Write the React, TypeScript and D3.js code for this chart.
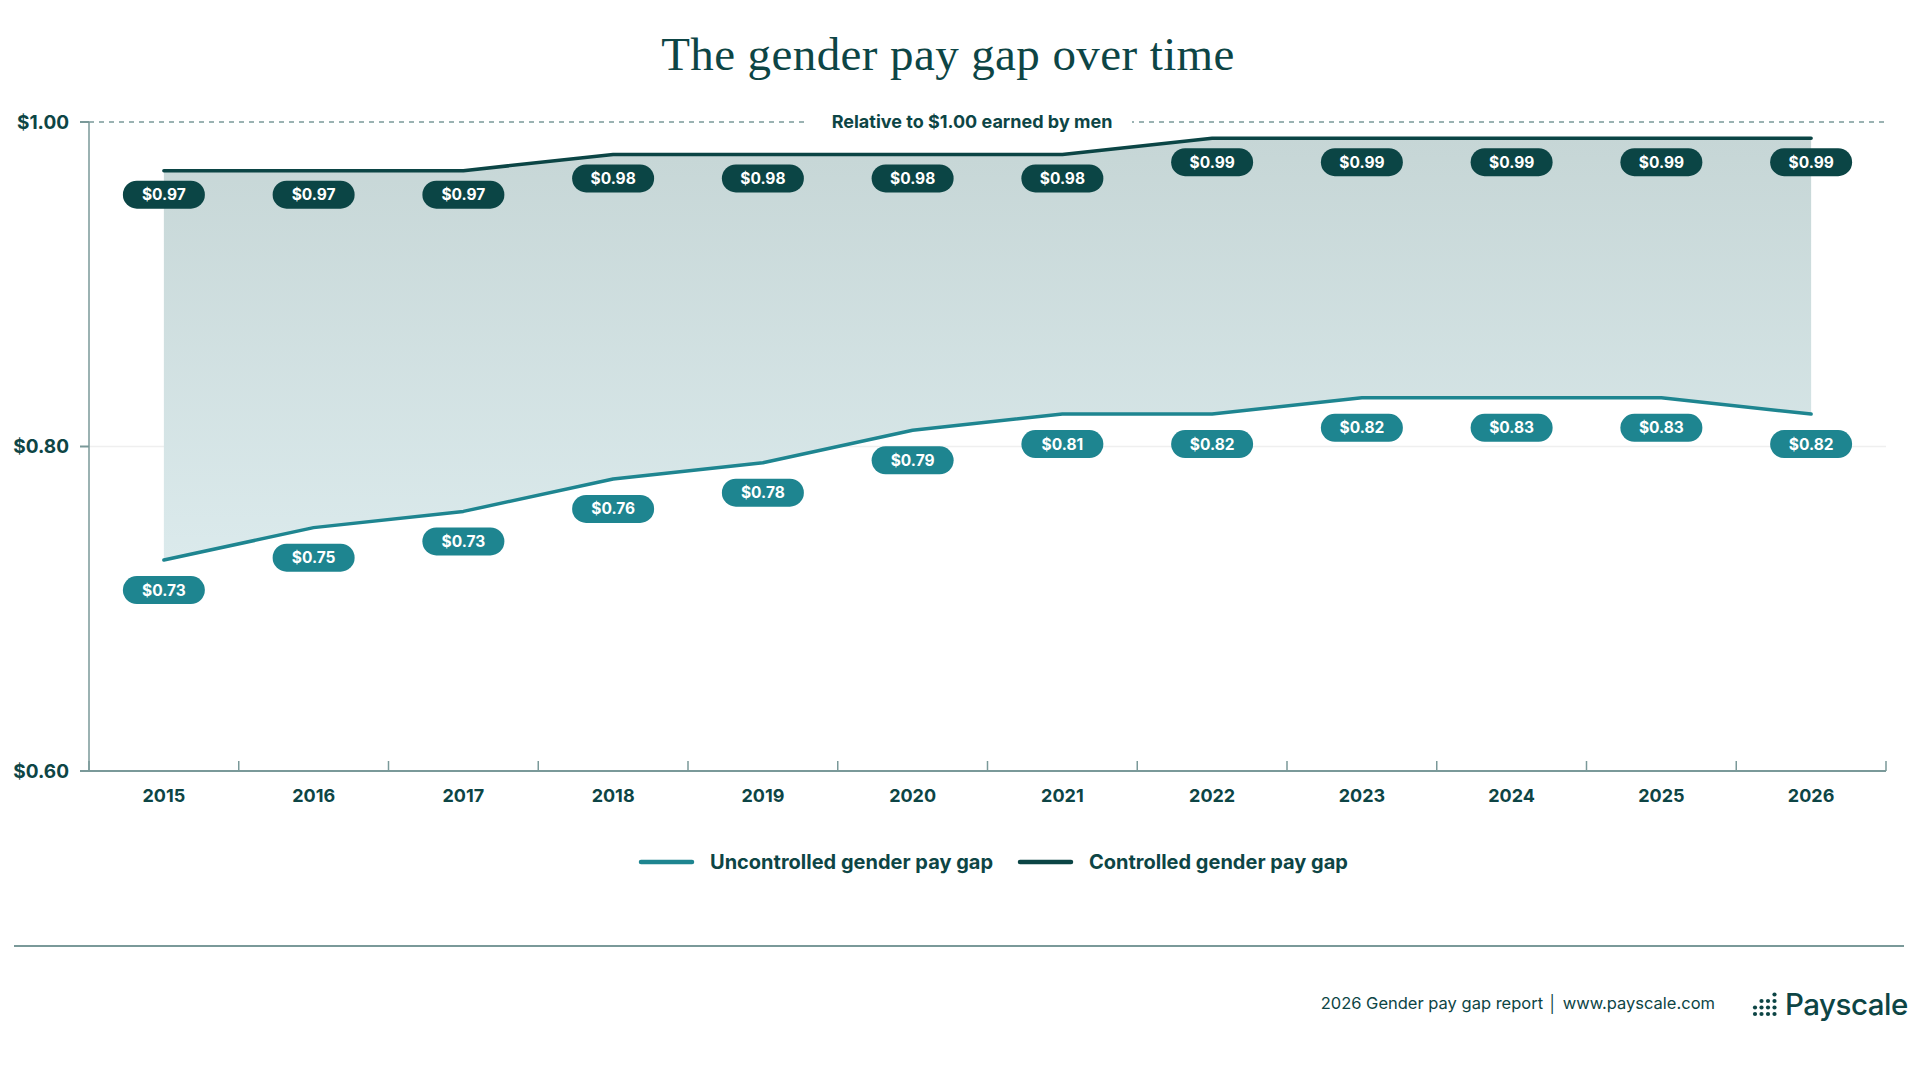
import { useEffect } from "react";
import * as d3 from "d3";

const years = ["2015", "2016", "2017", "2018", "2019", "2020", "2021", "2022", "2023", "2024", "2025", "2026"];
const uncontrolled = [0.73, 0.75, 0.76, 0.78, 0.79, 0.81, 0.82, 0.82, 0.83, 0.83, 0.83, 0.82];
const controlled = [0.97, 0.97, 0.97, 0.98, 0.98, 0.98, 0.98, 0.99, 0.99, 0.99, 0.99, 0.99];
const uncontrolledLabels = ["$0.73", "$0.75", "$0.73", "$0.76", "$0.78", "$0.79", "$0.81", "$0.82", "$0.82", "$0.83", "$0.83", "$0.82"];
const controlledLabels = ["$0.97", "$0.97", "$0.97", "$0.98", "$0.98", "$0.98", "$0.98", "$0.99", "$0.99", "$0.99", "$0.99", "$0.99"];
const yTicks = [0.6, 0.8, 1.0];
const series = [
  { name: "Uncontrolled gender pay gap", color: "#1e8590" },
  { name: "Controlled gender pay gap", color: "#0b4545" },
];

const W = 1920;
const H = 1081;
const INK = "#0d4545";
const AXIS = "#7a9999";
const SANS = "Inter, 'Noto Sans', sans-serif";

export default function App() {
  useEffect(() => {
    document.body.style.margin = "0";
  }, []);

  const x = d3.scaleBand<string>().domain(years).range([89, 1886]);
  const y = d3.scaleLinear().domain([0.6, 1.0]).range([771, 122]);
  const cx = (yr: string) => (x(yr) as number) + x.bandwidth() / 2;

  const idx = d3.range(years.length);
  const area = d3.area<number>()
    .x(i => cx(years[i]))
    .y0(i => y(uncontrolled[i]))
    .y1(i => y(controlled[i]));
  const line = (vals: number[]) =>
    d3.line<number>().x(i => cx(years[i])).y(i => y(vals[i]))(idx) as string;

  const pillW = 82, pillH = 28;
  const edges = [...years.map(yr => x(yr) as number), x.range()[1]];

  return (
    <svg width={W} height={H} style={{ display: "block", background: "#fff" }}>
      <defs>
        <linearGradient id="gapFill" x1="0" x2="0" y1="0" y2="1">
          <stop offset="0%" stopColor="#c6d6d6" />
          <stop offset="100%" stopColor="#dbeaec" />
        </linearGradient>
      </defs>

      <text x={948} y={70} textAnchor="middle" fontFamily="'Liberation Serif', 'DejaVu Serif', serif"
        fontSize={47} letterSpacing={0.4} fill={INK}>The gender pay gap over time</text>

      {/* grid */}
      <line x1={89} x2={1886} y1={y(0.8)} y2={y(0.8)} stroke="#efefef" strokeWidth={1.5} />
      <line x1={89} x2={1886} y1={y(1.0)} y2={y(1.0)} stroke={AXIS} strokeWidth={1.3} strokeDasharray="5,5" />
      <rect x={806} y={y(1.0) - 14} width={326} height={28} fill="#fff" />
      <text x={972} y={y(1.0) + 6} textAnchor="middle" fontFamily={SANS} fontWeight={700}
        fontSize={18} fill={INK}>Relative to $1.00 earned by men</text>

      {/* area + lines */}
      <path d={area(idx) as string} fill="url(#gapFill)" />
      <path d={line(controlled)} fill="none" stroke={series[1].color} strokeWidth={3.5} strokeLinecap="round" strokeLinejoin="round" />
      <path d={line(uncontrolled)} fill="none" stroke={series[0].color} strokeWidth={3.5} strokeLinecap="round" strokeLinejoin="round" />

      {/* axes */}
      <line x1={89} x2={89} y1={y(1.0)} y2={y(0.6)} stroke={AXIS} strokeWidth={1.5} />
      <line x1={89} x2={1886} y1={y(0.6)} y2={y(0.6)} stroke={AXIS} strokeWidth={2} />
      {yTicks.map(t => (
        <g key={t}>
          <line x1={80} x2={89} y1={y(t)} y2={y(t)} stroke={AXIS} strokeWidth={2} />
          <text x={69} y={y(t) + 6.5} textAnchor="end" fontFamily={SANS} fontWeight={700} fontSize={19}
            fill={INK}>{d3.format("$.2f")(t)}</text>
        </g>
      ))}
      {edges.map((e, i) => (
        <line key={i} x1={e} x2={e} y1={y(0.6) - 10} y2={y(0.6)} stroke={AXIS} strokeWidth={1.5} />
      ))}
      {years.map(yr => (
        <text key={yr} x={cx(yr)} y={802} textAnchor="middle" fontFamily={SANS} fontWeight={700}
          fontSize={18} fill={INK}>{yr}</text>
      ))}

      {/* value pills */}
      {years.map((yr, i) => (
        <g key={"c" + yr} transform={`translate(${cx(yr)},${y(controlled[i]) + 24})`}>
          <rect x={-pillW / 2} y={-pillH / 2} width={pillW} height={pillH} rx={14} fill={series[1].color} />
          <text y={5.5} textAnchor="middle" fontFamily={SANS} fontWeight={700} fontSize={15.5} fill="#fff">{controlledLabels[i]}</text>
        </g>
      ))}
      {years.map((yr, i) => (
        <g key={"u" + yr} transform={`translate(${cx(yr)},${y(uncontrolled[i]) + 30})`}>
          <rect x={-pillW / 2} y={-pillH / 2} width={pillW} height={pillH} rx={14} fill={series[0].color} />
          <text y={5.5} textAnchor="middle" fontFamily={SANS} fontWeight={700} fontSize={15.5} fill="#fff">{uncontrolledLabels[i]}</text>
        </g>
      ))}

      {/* legend */}
      {series.map((s, i) => {
        const lx = i === 0 ? 639 : 1018;
        return (
          <g key={s.name} transform={`translate(${lx},862)`}>
            <line x1={2} x2={53} y1={0} y2={0} stroke={s.color} strokeWidth={4.5} strokeLinecap="round" />
            <text x={71} y={7} fontFamily={SANS} fontWeight={700} fontSize={20} fill={INK}>{s.name}</text>
          </g>
        );
      })}

      <line x1={14} x2={1904} y1={946} y2={946} stroke={AXIS} strokeWidth={2} />

      {/* footer */}
      <text x={1715} y={1009} textAnchor="end" fontFamily={SANS} fontSize={16.5} fill={INK}>
        2026 Gender pay gap report │  www.payscale.com
      </text>
      <g fill={INK}>
        {[2, 3, 3, 4].map((n, c) =>
          d3.range(n).map(r => (
            <circle key={c + "-" + r} cx={1755 + c * 6.5} cy={1014 - r * 6.5} r={2.1} />
          ))
        )}
      </g>
      <text x={1785} y={1015} fontFamily={SANS} fontWeight={500} fontSize={29.5} fill={INK} letterSpacing={-0.5}>Payscale</text>
    </svg>
  );
}
